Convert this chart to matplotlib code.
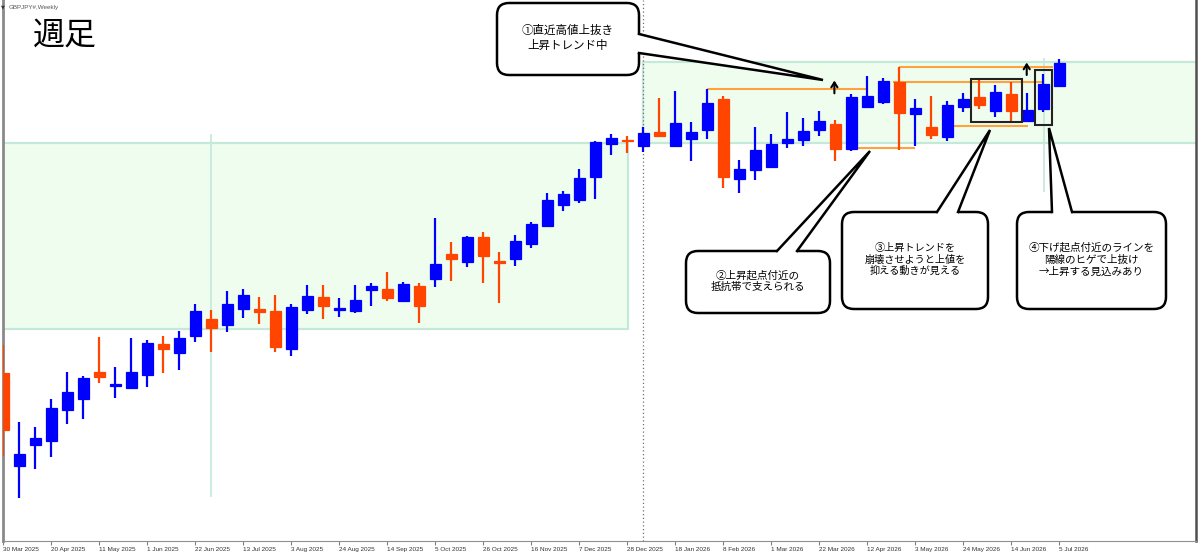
import numpy as np
import matplotlib.pyplot as plt
from matplotlib.patches import Rectangle, FancyBboxPatch, Polygon

plt.rcParams['font.family'] = ['Noto Sans CJK JP', 'DejaVu Sans']

# weekly GBPJPY candles, 30 Mar 2025 .. 5 Jul 2026
opens = [187.67, 178.40, 180.47, 180.90, 184.03, 185.10, 187.80, 186.43, 186.23, 187.50,
         190.58, 189.73, 191.43, 193.13, 192.50, 194.07, 194.10, 193.87, 190.07, 194.00,
         195.30, 194.00, 193.90, 196.00, 196.07, 194.93, 196.40, 197.13, 199.57, 198.77,
         201.33, 198.87, 199.10, 200.57, 202.43, 204.50, 205.00, 207.33, 210.57, 211.05,
         210.43, 211.83, 210.43, 211.10, 212.00, 215.07, 207.10, 208.00, 208.30, 210.67,
         211.00, 211.97, 212.58, 210.08, 214.33, 214.77, 216.77, 213.60, 212.33, 211.27,
         214.27, 215.27, 213.93, 215.60, 212.90, 214.10, 216.40]
highs = [190.50, 182.85, 182.27, 185.07, 187.77, 187.40, 191.33, 188.35, 191.18, 191.00,
         191.40, 191.88, 194.57, 194.00, 195.90, 196.10, 195.33, 195.50, 194.57, 196.50,
         196.50, 195.17, 196.50, 196.73, 197.77, 196.77, 196.67, 203.23, 200.77, 201.43,
         201.77, 199.83, 201.53, 202.83, 205.73, 205.87, 208.10, 210.93, 211.57, 211.40,
         212.30, 215.17, 215.93, 212.80, 216.10, 215.40, 209.00, 212.27, 211.63, 213.83,
         213.17, 213.90, 213.00, 215.58, 217.42, 217.17, 218.27, 215.15, 215.40, 214.90,
         215.73, 217.00, 216.50, 216.83, 215.73, 217.60, 219.07]
lows = [179.40, 175.17, 178.10, 179.27, 182.57, 183.10, 186.73, 185.17, 186.15, 186.27,
        187.67, 188.03, 190.77, 189.83, 191.77, 193.23, 192.57, 189.77, 189.40, 193.57,
        193.10, 193.27, 193.67, 194.40, 194.93, 194.77, 192.67, 196.33, 196.90, 198.27,
        196.73, 194.73, 198.40, 200.17, 202.40, 203.90, 204.70, 205.07, 209.47, 209.75,
        209.83, 211.27, 210.27, 208.90, 211.10, 206.17, 205.73, 206.97, 208.17, 210.20,
        210.45, 211.45, 208.92, 209.88, 214.17, 214.65, 210.00, 210.40, 211.07, 210.93,
        213.83, 214.07, 213.33, 212.67, 212.77, 213.77, 216.27]
closes = [182.00, 179.57, 181.25, 184.23, 185.83, 187.23, 187.27, 186.57, 187.77, 190.67,
          190.15, 191.25, 193.93, 192.20, 194.63, 195.50, 193.83, 190.30, 194.27, 195.37,
          194.43, 194.17, 195.03, 196.43, 195.17, 196.57, 194.43, 198.57, 199.07, 201.27,
          199.43, 198.70, 200.87, 202.57, 205.00, 205.60, 207.23, 210.77, 211.23, 210.95,
          211.67, 211.42, 212.73, 211.83, 214.73, 207.33, 208.07, 210.00, 210.60, 211.07,
          211.90, 212.92, 210.10, 215.33, 215.40, 216.93, 213.67, 214.17, 211.50, 214.50,
          215.10, 214.50, 215.77, 213.93, 214.00, 216.60, 218.73]

tick_labels = ['30 Mar 2025', '20 Apr 2025', '11 May 2025', '1 Jun 2025', '22 Jun 2025',
               '13 Jul 2025', '3 Aug 2025', '24 Aug 2025', '14 Sep 2025', '5 Oct 2025',
               '26 Oct 2025', '16 Nov 2025', '7 Dec 2025', '28 Dec 2025', '18 Jan 2026',
               '8 Feb 2026', '1 Mar 2026', '22 Mar 2026', '12 Apr 2026', '3 May 2026',
               '24 May 2026', '14 Jun 2026', '5 Jul 2026']

# drawn objects (price levels)
band_low = (192.15, 210.70)
band_high = (210.70, 218.77)

BLUE = '#0000ff'
RED = '#ff4500'
ORANGE = '#ffa23c'
TEAL = '#c4e9d9'
BAND = '#effdef'

fig = plt.figure(figsize=(12, 5.55), dpi=100)
ax = fig.add_axes([3 / 1200, 14 / 555, 1193 / 1200, 541 / 555])
ax.set_xlim(-0.02, 74.54)
ax.set_ylim(170.9, 225)

o = np.array(opens)
c = np.array(closes)
x = np.arange(len(o))
cols = np.where(c >= o, BLUE, RED)

# support / resistance zones
ax.add_patch(Rectangle((-1, band_low[0]), 40.03, band_low[1] - band_low[0],
                       fc=BAND, ec=TEAL, lw=1.6, zorder=0))
ax.add_patch(Rectangle((40, band_high[0]), 40, band_high[1] - band_high[0],
                       fc=BAND, ec=TEAL, lw=1.6, zorder=0))
ax.vlines(13, 175.3, 211.6, color=TEAL, lw=1.2, zorder=1)
ax.vlines(65.01, 205.83, 219.17, color=TEAL, lw=1.2, zorder=1)
ax.axvline(40, color='#707070', lw=0.9, ls=(0, (1, 2)), zorder=1)

# candles
ax.vlines(x, lows, highs, colors=cols, lw=1.6, zorder=3)
ax.bar(x, np.abs(c - o), bottom=np.minimum(o, c), width=0.7, color=cols,
       edgecolor=cols, lw=0.9, zorder=4)

# horizontal lines drawn on the chart
ax.hlines(216.10, 44, 54, color=ORANGE, lw=1.5, zorder=2)
ax.hlines(210.17, 53.4, 57, color=ORANGE, lw=1.5, zorder=2)
ax.hlines(218.27, 56, 65.6, color=ORANGE, lw=1.5, zorder=2)
ax.hlines(216.80, 55.6, 65.03, color=ORANGE, lw=1.5, zorder=2)
ax.hlines(212.37, 59.4, 64.03, color=ORANGE, lw=1.5, zorder=2)

for xa, y0, y1 in [(51.94, 215.67, 216.95), (63.96, 217.5, 218.75)]:
    ax.annotate('', xy=(xa, y1), xytext=(xa, y0),
                arrowprops=dict(arrowstyle='->,head_length=0.35,head_width=0.22',
                                color='black', lw=1.5, mutation_scale=10,
                                shrinkA=0, shrinkB=0), zorder=6)

ax.add_patch(Rectangle((60.5, 212.77), 3.14, 4.38, fill=False, ec='#222222', lw=1.5, zorder=5))
ax.add_patch(Rectangle((64.5, 212.5), 1.01, 5.5, fill=False, ec='#222222', lw=1.5, zorder=5))

ax.set_xticks(range(0, 67, 3))
ax.set_xticklabels(tick_labels, ha='left', fontsize=4.6, family='Liberation Sans', color='#333333')
ax.tick_params(axis='x', length=3, width=0.8, color='#808080', pad=1)
ax.set_yticks([])
ax.spines['top'].set_visible(False)
ax.spines['left'].set_color('#8a8a8a')
ax.spines['left'].set_linewidth(2)
ax.spines['right'].set_color('#505050')
ax.spines['right'].set_linewidth(1.8)
ax.spines['bottom'].set_color('#909090')

# overlay in pixel coordinates for the notes
ov = fig.add_axes([0, 0, 1, 1])
ov.set_xlim(0, 1200)
ov.set_ylim(555, 0)
ov.axis('off')
ov.patch.set_alpha(0)

ov.text(1, 7, '▼', fontsize=3.5, va='center', family='DejaVu Sans', color='#333333')
ov.text(9, 7, 'GBPJPY#,Weekly', fontsize=4.5, va='center', family='Liberation Sans', color='#555555')
ov.text(65, 36, '週足', fontsize=23, ha='center', va='center')

notes = [
    ((497, 3, 639, 75), [(639, 34), (639, 53)], (823, 80), 'right', 8.3,
     '①直近高値上抜き\n上昇トレンド中'),
    ((686, 251, 830, 313), [(777, 251), (797, 251)], (870, 151), 'top', 7.6,
     '②上昇起点付近の\n抵抗帯で支えられる'),
    ((842, 212, 988, 309), [(937, 212), (958, 212)], (990, 130), 'top', 7.3,
     '③上昇トレンドを\n崩壊させようと上値を\n抑える動きが見える'),
    ((1017, 212, 1166, 309), [(1052, 212), (1072, 212)], (1049, 128), 'top', 7.6,
     '④下げ起点付近のラインを\n陽線のヒゲで上抜け\n→上昇する見込みあり'),
]
for (x0, y0, x1, y1), base, tip, side, fs, txt in notes:
    ov.add_patch(FancyBboxPatch((x0, y0), x1 - x0, y1 - y0,
                                boxstyle='round,pad=0,rounding_size=12',
                                fc='white', ec='black', lw=1.8, zorder=7))
    (bx1, by1), (bx2, by2) = base
    if side == 'right':
        inner = [(bx2 - 4, by2), (bx1 - 4, by1)]
    else:
        inner = [(bx2, by2 + 4), (bx1, by1 + 4)]
    ov.add_patch(Polygon([(bx1, by1), tip, (bx2, by2)] + inner, closed=True,
                         fc='white', ec='none', zorder=8))
    ov.plot([bx1, tip[0], bx2], [by1, tip[1], by2], color='black', lw=1.8, zorder=9,
            solid_joinstyle='miter')
    ov.text((x0 + x1) / 2, (y0 + y1) / 2 - 1, txt, ha='center', va='center',
            fontsize=fs, linespacing=1.2, zorder=10)

fig.savefig('out.png', dpi=100)
